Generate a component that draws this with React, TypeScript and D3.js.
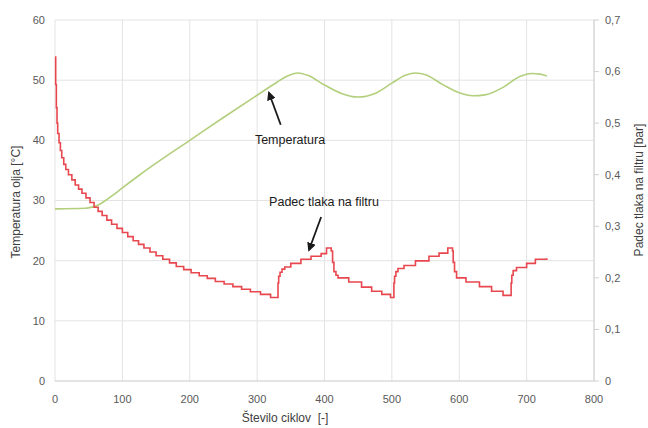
import React, { useEffect, useRef } from "react";
import * as d3 from "d3";

const W = 648;
const H = 428;

const xTicks = [0, 100, 200, 300, 400, 500, 600, 700, 800];
const leftTicks = [0, 10, 20, 30, 40, 50, 60];
const rightTicks = [0, 0.1, 0.2, 0.3, 0.4, 0.5, 0.6, 0.7];

// Temperature (°C) vs cycle
const tempCycles = [0, 45, 55, 65, 75, 85, 100, 125, 150, 200, 250, 300, 330, 345, 360, 375, 400, 425, 450, 475, 500, 520, 535, 550, 575, 600, 620, 640, 665, 690, 708, 720, 730];
const tempValues = [28.6, 28.7, 28.9, 29.3, 30.0, 30.8, 32.1, 34.2, 36.2, 40.0, 43.8, 47.5, 49.7, 50.7, 51.2, 50.8, 49.2, 47.8, 47.2, 47.8, 49.5, 50.8, 51.2, 50.9, 49.3, 47.9, 47.4, 47.6, 48.8, 50.6, 51.1, 51.0, 50.7];

// Pressure drop on filter (bar) vs cycle, stepped
const presCycles = [0, 1, 2, 3, 4, 6, 8, 10, 13, 16, 20, 25, 30, 35, 40, 46, 52, 58, 64, 70, 77, 84, 92, 100, 108, 116, 124, 132, 141, 150, 160, 170, 180, 191, 202, 214, 226, 238, 251, 264, 277, 290, 305, 320,
  331, 332, 334, 337, 341, 350, 365, 380, 395, 403, 410, 412, 414, 417, 420, 436, 455, 470, 485, 498,
  503, 504, 506, 509, 518, 535, 555, 570, 583, 590, 591, 593, 596, 610, 630, 648, 665,
  677, 678, 680, 685, 700, 713, 730];
const presValues = [0.628, 0.575, 0.53, 0.5, 0.48, 0.462, 0.447, 0.433, 0.42, 0.41, 0.4, 0.39, 0.38, 0.372, 0.364, 0.355, 0.346, 0.337, 0.329, 0.321, 0.312, 0.304, 0.296, 0.288, 0.28, 0.272, 0.265, 0.258, 0.25, 0.243, 0.236, 0.229, 0.222, 0.216, 0.21, 0.204, 0.199, 0.193, 0.188, 0.183, 0.178, 0.173, 0.168, 0.162,
  0.19, 0.203, 0.211, 0.217, 0.221, 0.228, 0.236, 0.242, 0.247, 0.258, 0.252, 0.23, 0.212, 0.205, 0.2, 0.192, 0.182, 0.174, 0.168, 0.162,
  0.19, 0.203, 0.212, 0.218, 0.224, 0.233, 0.242, 0.248, 0.258, 0.252, 0.23, 0.212, 0.2, 0.192, 0.183, 0.174, 0.166,
  0.19, 0.205, 0.214, 0.22, 0.228, 0.236, 0.238];

const xLabel = "Število ciklov  [-]";
const yLeftLabel = "Temperatura olja [°C]";
const yRightLabel = "Padec tlaka na filtru [bar]";
const tempNote = "Temperatura";
const presNote = "Padec tlaka na filtru";

const FONT = "'Liberation Sans', Arial, sans-serif";

export default function App() {
  const ref = useRef<SVGSVGElement>(null);
  useEffect(() => {
    const svg = d3.select(ref.current);
    svg.selectAll("*").remove();
    const x = d3.scaleLinear().domain([0, 800]).range([55, 594]);
    const yL = d3.scaleLinear().domain([0, 60]).range([381, 20]);
    const yR = d3.scaleLinear().domain([0, 0.7]).range([381, 20]);

    const defs = svg.append("defs");
    defs.append("marker").attr("id", "ah").attr("viewBox", "0 0 10 10").attr("refX", 8).attr("refY", 5)
      .attr("markerWidth", 5).attr("markerHeight", 5).attr("orient", "auto")
      .append("path").attr("d", "M0,0 L10,5 L0,10 z").attr("fill", "#1a1a1a");

    const g = svg.append("g");
    // gridlines
    g.selectAll(".vg").data(xTicks).join("line")
      .attr("x1", (d) => x(d)).attr("x2", (d) => x(d)).attr("y1", 20).attr("y2", 381)
      .attr("stroke", "#e3e3e3").attr("stroke-width", 1);
    g.selectAll(".hg").data(leftTicks.slice(1)).join("line")
      .attr("x1", 55).attr("x2", 594).attr("y1", (d) => yL(d)).attr("y2", (d) => yL(d))
      .attr("stroke", "#e3e3e3").attr("stroke-width", 1);
    // axis lines
    g.append("line").attr("x1", 55).attr("x2", 594).attr("y1", 381).attr("y2", 381).attr("stroke", "#c8c8c8");
    g.append("line").attr("x1", 594).attr("x2", 594).attr("y1", 20).attr("y2", 381).attr("stroke", "#d0d0d0");
    g.selectAll(".rt").data(rightTicks).join("line")
      .attr("x1", 594).attr("x2", 599).attr("y1", (d) => yR(d)).attr("y2", (d) => yR(d)).attr("stroke", "#d0d0d0");

    // tick labels
    g.selectAll(".xl").data(xTicks).join("text")
      .attr("x", (d) => x(d)).attr("y", 403).attr("text-anchor", "middle")
      .attr("font-family", FONT).attr("font-size", 11).attr("fill", "#595959").text((d) => String(d));
    g.selectAll(".yl").data(leftTicks).join("text")
      .attr("x", 45).attr("y", (d) => yL(d)).attr("dy", "0.35em").attr("text-anchor", "end")
      .attr("font-family", FONT).attr("font-size", 11).attr("fill", "#595959").text((d) => String(d));
    g.selectAll(".yr").data(rightTicks).join("text")
      .attr("x", 605).attr("y", (d) => yR(d)).attr("dy", "0.35em").attr("text-anchor", "start")
      .attr("font-family", FONT).attr("font-size", 11).attr("fill", "#595959")
      .text((d) => (d === 0 ? "0" : d.toFixed(1).replace(".", ",")));

    // axis titles
    g.append("text").attr("x", 285).attr("y", 422).attr("text-anchor", "middle")
      .style("white-space", "pre")
      .attr("font-family", FONT).attr("font-size", 12).attr("fill", "#404040").text(xLabel);
    g.append("text").attr("transform", "translate(20,202) rotate(-90)").attr("text-anchor", "middle")
      .attr("font-family", FONT).attr("font-size", 12).attr("fill", "#404040").text(yLeftLabel);
    g.append("text").attr("transform", "translate(643,190) rotate(-90)").attr("text-anchor", "middle")
      .attr("font-family", FONT).attr("font-size", 12).attr("fill", "#404040").text(yRightLabel);

    // temperature line
    const tData = tempCycles.map((c, i) => [c, tempValues[i]] as [number, number]);
    g.append("path").datum(tData)
      .attr("d", d3.line<[number, number]>().x((d) => x(d[0])).y((d) => yL(d[1])).curve(d3.curveMonotoneX))
      .attr("fill", "none").attr("stroke", "#b2cf7c").attr("stroke-width", 1.6);

    // pressure line
    const pData = presCycles.map((c, i) => [c, presValues[i]] as [number, number]);
    g.append("path").datum(pData)
      .attr("d", d3.line<[number, number]>().x((d) => x(d[0])).y((d) => yR(d[1])).curve(d3.curveStepAfter))
      .attr("fill", "none").attr("stroke", "#e8474f").attr("stroke-width", 1.6);

    // annotations
    g.append("line").attr("x1", x(335)).attr("y1", yL(42.6)).attr("x2", x(317.5)).attr("y2", yL(47.9))
      .attr("stroke", "#1a1a1a").attr("stroke-width", 1.8).attr("marker-end", "url(#ah)");
    g.append("text").attr("x", 290).attr("y", 144).attr("text-anchor", "middle")
      .attr("font-family", FONT).attr("font-size", 12.5).attr("fill", "#1a1a1a").text(tempNote);
    g.append("line").attr("x1", x(395)).attr("y1", yR(0.318)).attr("x2", x(377)).attr("y2", yR(0.254))
      .attr("stroke", "#1a1a1a").attr("stroke-width", 1.8).attr("marker-end", "url(#ah)");
    g.append("text").attr("x", 324).attr("y", 206).attr("text-anchor", "middle")
      .attr("font-family", FONT).attr("font-size", 12.5).attr("fill", "#1a1a1a").text(presNote);
  }, []);
  return (
    <svg ref={ref} width={W} height={H} style={{ position: "absolute", left: 0, top: 0, background: "#fff" }} />
  );
}
